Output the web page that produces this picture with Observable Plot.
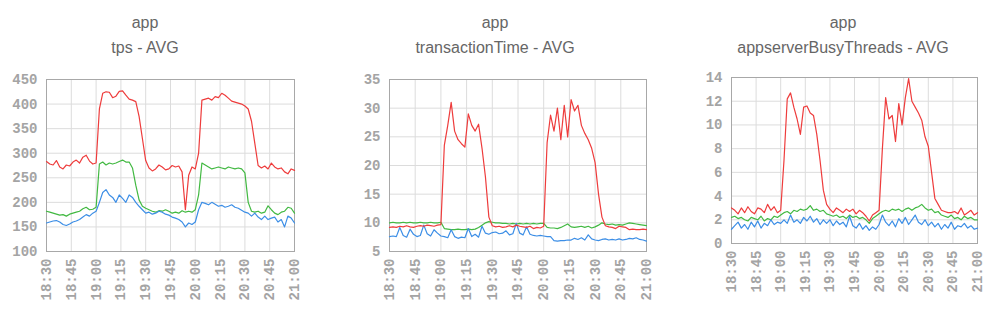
<!DOCTYPE html>
<html>
<head>
<meta charset="utf-8">
<script src="https://cdn.jsdelivr.net/npm/d3@7"></script>
<script src="https://cdn.jsdelivr.net/npm/@observablehq/plot@0.6"></script>
<style>
  html, body { margin: 0; padding: 0; background: #fff; }
  body { width: 1000px; height: 313px; position: relative; overflow: hidden; }
  .panel { position: absolute; }
  .title { position: absolute; width: 300px; text-align: center; font-family: "Liberation Sans", Arial, sans-serif; font-size: 16px; color: #666; line-height: 25px; }
</style>
</head>
<body>
<script>
// ---- sampling grid (one sample every 2 minutes, 18:30 -> 21:00) ----
const startTime = "18:30";
const stepMinutes = 2;
const xTickLabels = ["18:30","18:45","19:00","19:15","19:30","19:45","20:00","20:15","20:30","20:45","21:00"];

// ---- panel titles ----
const group = "app";
const titles = ["tps - AVG", "transactionTime - AVG", "appserverBusyThreads - AVG"];

// ---- y ticks ----
const tpsTicks = [100,150,200,250,300,350,400,450];
const ttTicks = [5,10,15,20,25,30,35];
const busyTicks = [0,2,4,6,8,10,12,14];

// ---- tps - AVG ----
const tpsRed = [283,278,276,285,272,268,276,274,282,286,280,292,296,284,278,280,
  390,422,425,424,413,416,426,427,418,410,408,405,375,330,285,270,264,268,276,272,
  266,268,275,272,274,262,185,255,272,268,300,408,410,412,408,415,413,422,418,412,
  406,404,402,400,396,390,365,320,275,270,274,268,280,272,268,270,262,258,268,265];
const tpsGreen = [182,180,178,176,174,175,172,176,178,180,182,187,190,185,186,190,
  278,282,276,280,278,280,283,286,282,282,270,235,205,192,188,185,182,180,183,182,
  185,182,178,180,178,183,180,182,180,185,215,280,276,272,268,270,272,270,268,272,
  270,268,270,268,260,200,182,180,182,178,180,193,185,178,175,180,182,190,188,178];
const tpsBlue = [158,160,162,163,160,155,153,156,160,162,165,170,175,172,178,182,
  200,220,226,215,210,200,215,208,200,215,210,200,192,185,178,180,176,178,182,180,
  176,174,170,168,165,160,150,158,155,160,185,200,198,195,200,196,192,194,190,192,
  195,190,188,184,180,178,172,178,170,165,172,165,168,170,160,165,150,172,168,158];

// ---- transactionTime - AVG ----
const ttRed = [9.2,9.3,9.2,9.4,9.3,9.5,9.3,9.2,9.4,9.5,9.4,9.6,9.5,9.4,9.6,9.7,
  23.5,27,31,26,24.5,23.8,23.2,29,27,26,27.2,23,18,11,9.5,9.3,9.4,9.2,9.3,9.5,
  9.3,9.6,9.4,9.3,9.2,9.4,9.0,9.2,9.1,9.4,24,28.8,26,30,24.5,30.5,25,31.5,29.5,30.5,
  27,25.6,24.5,23,20.5,15,11,9.5,9.3,9.2,9.0,9.4,9.3,9.2,8.8,8.9,8.8,8.8,8.9,8.8];
const ttGreen = [10.0,10.1,10.0,10.0,10.1,10.0,10.1,10.0,10.0,10.1,10.0,10.0,10.1,10.0,10.0,10.1,
  9.0,8.9,8.8,8.8,8.9,8.8,8.8,8.9,8.8,8.9,9.2,9.6,10.0,10.2,10.1,10.0,10.0,9.9,9.9,9.8,
  9.9,9.8,9.9,9.8,9.9,9.8,9.9,9.8,9.9,9.9,9.2,9.1,9.1,9.0,9.2,9.5,9.8,9.3,9.2,9.3,
  9.4,9.2,9.4,9.1,9.3,9.6,10.0,9.8,9.7,9.8,9.6,9.7,9.6,9.8,10.0,9.9,9.8,9.7,9.6,9.5];
const ttBlue = [7.6,7.7,7.6,9.2,7.8,7.5,8.9,8.0,7.6,7.8,9.6,8.1,7.7,8.8,8.2,7.7,
  7.6,7.4,8.8,7.6,7.3,7.5,7.4,9.0,7.6,8.0,7.5,9.4,8.2,8.0,8.3,8.4,8.1,8.2,8.6,7.9,
  8.1,9.9,8.2,7.9,9.3,8.0,7.8,7.7,7.8,7.7,7.6,7.6,6.9,6.8,6.9,6.9,7.0,7.0,7.3,7.1,
  7.4,7.0,7.9,7.2,7.0,6.9,7.1,7.2,7.0,7.1,7.0,7.2,7.0,7.1,7.3,7.2,7.4,7.1,7.0,6.8];

// ---- appserverBusyThreads - AVG ----
const busyRed = [3.0,2.8,2.5,3.0,2.6,3.1,2.7,2.5,3.0,2.9,2.6,3.3,2.8,3.1,2.6,2.8,
  7.0,12.2,12.7,11.5,10.5,9.2,11.5,11.6,11.0,10.8,9.2,7.0,4.5,3.3,2.9,2.6,3.0,2.8,2.6,2.9,
  2.7,2.9,2.5,2.8,2.6,2.3,1.9,2.4,2.6,2.8,8.0,12.3,10.5,10.8,8.6,11.8,10.0,12.3,13.9,12.0,
  11.5,11.0,10.4,9.0,8.2,6.0,3.8,3.3,2.8,2.7,2.6,2.6,2.7,2.5,3.0,2.4,2.6,2.8,2.4,2.6];
const busyGreen = [2.2,2.3,2.1,2.2,2.0,1.9,2.2,2.1,2.0,2.3,1.9,2.1,2.0,2.3,2.2,2.4,
  2.6,2.7,2.5,2.8,2.7,2.9,2.8,2.9,3.2,2.8,2.9,2.7,2.8,2.5,2.4,2.3,2.4,2.2,2.3,2.1,
  2.4,2.2,2.3,2.1,2.2,2.0,1.7,2.1,2.3,2.5,2.7,2.8,2.7,2.9,2.8,2.9,2.7,2.9,3.0,2.8,
  3.0,3.1,3.3,3.0,2.8,2.9,2.6,2.7,2.4,2.3,2.2,2.4,2.1,2.2,2.0,2.3,2.1,2.2,2.0,2.0];
const busyBlue = [1.2,1.5,1.8,1.3,1.6,1.2,1.8,1.4,1.9,1.3,1.7,1.5,2.0,1.6,1.8,1.7,
  2.0,1.7,2.4,1.8,2.0,1.7,2.2,1.9,2.3,1.8,2.1,1.6,2.0,1.7,2.0,1.5,1.9,1.6,1.8,1.4,
  2.3,1.5,1.3,1.7,1.2,1.5,1.1,1.4,1.2,1.6,2.4,1.8,1.5,1.9,1.4,2.1,1.7,2.2,1.6,2.0,
  2.4,1.8,1.6,2.0,1.5,1.8,1.4,1.7,1.2,1.6,1.3,1.8,1.2,1.5,1.4,1.7,1.3,1.5,1.2,1.3];

// ---- build ----
const parseT = d3.utcParse("%H:%M");
const t0 = parseT(startTime);
const times = tpsRed.map((_, i) => d3.utcMinute.offset(t0, i * stepMinutes));
const xTicks = xTickLabels.map(parseT);
const fmt = d3.utcFormat("%H:%M");
const colors = { red: "#ee3c3c", green: "#42b942", blue: "#3c8ee6" };

const panels = [
  { title: titles[0], red: tpsRed, green: tpsGreen, blue: tpsBlue, ticks: tpsTicks,
    box: { left: 0, width: 330, ml: 46, mr: 36, mt: 19, mb: 62 }, titleX: 145 },
  { title: titles[1], red: ttRed, green: ttGreen, blue: ttBlue, ticks: ttTicks,
    box: { left: 330, width: 330, ml: 59, mr: 14, mt: 19, mb: 62 }, titleX: 495 },
  { title: titles[2], red: busyRed, green: busyGreen, blue: busyBlue, ticks: busyTicks,
    box: { left: 665, width: 335, ml: 66, mr: 23, mt: 17, mb: 70 }, titleX: 843 }
];

for (const p of panels) {
  const t = document.createElement("div");
  t.className = "title";
  t.style.left = (p.titleX - 150) + "px";
  t.style.top = "10px";
  t.innerHTML = group + "<br>" + p.title;
  document.body.appendChild(t);

  const series = ["green", "blue", "red"].map(k => ({
    key: k,
    data: p[k].map((v, i) => ({ t: times[i], v }))
  }));

  const chart = Plot.plot({
    width: p.box.width,
    height: 253,
    marginLeft: p.box.ml,
    marginRight: p.box.mr,
    marginTop: p.box.mt,
    marginBottom: p.box.mb,
    style: { fontFamily: "'Liberation Mono', monospace", fontSize: "14px", fontWeight: "bold", color: "#a4a4a4", background: "transparent" },
    x: { type: "utc", domain: [xTicks[0], xTicks[xTicks.length - 1]] },
    y: { domain: [p.ticks[0], p.ticks[p.ticks.length - 1]] },
    marks: [
      Plot.gridX(xTicks, { stroke: "#dcdcdc", strokeOpacity: 1 }),
      Plot.gridY(p.ticks, { stroke: "#dcdcdc", strokeOpacity: 1 }),
      Plot.frame({ stroke: "#a8a8a8" }),
      Plot.axisX(xTicks, { tickRotate: -90, tickSize: 0, tickPadding: 7, tickFormat: fmt, label: null }),
      Plot.axisY(p.ticks, { tickSize: 0, tickPadding: 9, label: null }),
      ...series.map(s => Plot.line(s.data, { x: "t", y: "v", stroke: colors[s.key], strokeWidth: 1.2 }))
    ]
  });
  const wrap = document.createElement("div");
  wrap.className = "panel";
  wrap.style.left = p.box.left + "px";
  wrap.style.top = "60px";
  wrap.appendChild(chart);
  document.body.appendChild(wrap);
}
</script>
</body>
</html>
